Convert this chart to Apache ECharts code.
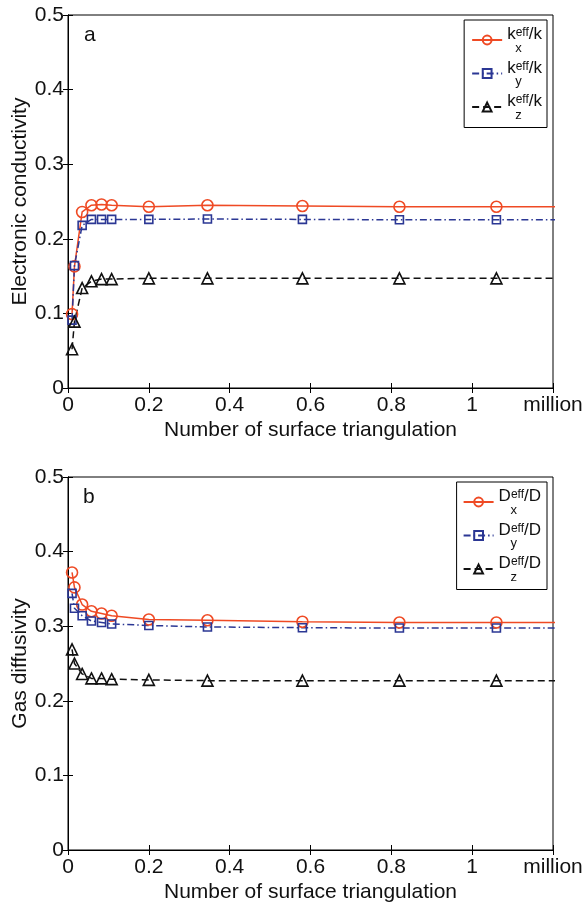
<!DOCTYPE html>
<html>
<head>
<meta charset="utf-8">
<script src="https://cdn.jsdelivr.net/npm/echarts@6/dist/echarts.min.js"></script>
<style>
  html, body { margin: 0; padding: 0; background: #fff; }
  #chart { width: 585px; height: 907px; }
</style>
</head>
<body>
<div id="chart"></div>
<script>
// number of surface triangles (million); last point lies past the axis end, line runs off the box
const xVals = [0.010, 0.016, 0.035, 0.058, 0.083, 0.108, 0.2, 0.345, 0.58, 0.82, 1.06, 1.3];
const xTicks = [0, 0.2, 0.4, 0.6, 0.8, 1, 1.2];
const yTicks = [0, 0.1, 0.2, 0.3, 0.4, 0.5];

// a: electronic conductivity
const kx = [0.099, 0.163, 0.236, 0.245, 0.246, 0.245, 0.243, 0.245, 0.244, 0.243, 0.243, 0.243];
const ky = [0.091, 0.164, 0.218, 0.226, 0.226, 0.226, 0.226, 0.2265, 0.226, 0.2255, 0.2255, 0.2255];
const kz = [0.052, 0.089, 0.134, 0.143, 0.146, 0.146, 0.147, 0.147, 0.147, 0.147, 0.147, 0.147];

// b: gas diffusivity
const Dx = [0.372, 0.352, 0.329, 0.320, 0.317, 0.314, 0.309, 0.308, 0.306, 0.305, 0.305, 0.305];
const Dy = [0.344, 0.324, 0.314, 0.307, 0.305, 0.303, 0.301, 0.299, 0.298, 0.2975, 0.2975, 0.2975];
const Dz = [0.269, 0.250, 0.236, 0.230, 0.230, 0.229, 0.228, 0.227, 0.227, 0.227, 0.227, 0.227];

const FONT = '"Liberation Sans", Arial, Helvetica, sans-serif';
const RED = '#ef4a24';
const BLUE = '#2b3794';
const BLACK = '#111';

const pairs = ys => ys.map((v, i) => [xVals[i], v]);

function xAxes(gridIndex, showName) {
  return [{
    type: 'value', gridIndex: gridIndex, min: xTicks[0], max: xTicks[xTicks.length - 1], interval: 0.2,
    name: showName, nameLocation: 'middle', nameGap: 32,
    nameTextStyle: {fontFamily: FONT, fontSize: 21, color: BLACK},
    axisLine: {lineStyle: {color: '#000', width: 1}},
    axisTick: {inside: true, length: 5, lineStyle: {color: '#000'}},
    axisLabel: {
      fontFamily: FONT, fontSize: 21, color: BLACK, margin: 7,
      formatter: v => v >= 1.19 ? 'million' : String(+v.toFixed(1))
    },
    splitLine: {show: false}
  }, {
    type: 'value', gridIndex: gridIndex, position: 'top', min: 0, max: 1.2, interval: 0.2,
    axisLine: {lineStyle: {color: '#000', width: 1}},
    axisTick: {inside: true, length: 5, lineStyle: {color: '#000'}},
    axisLabel: {show: false},
    splitLine: {show: false}
  }]
}

function yAxes(gridIndex, name) {
  return [{
    type: 'value', gridIndex: gridIndex, min: yTicks[0], max: yTicks[yTicks.length - 1], interval: 0.1,
    name: name, nameLocation: 'middle', nameGap: 37, nameMoveOverlap: false,
    nameTextStyle: {fontFamily: FONT, fontSize: 21, color: BLACK},
    axisLine: {show: true, lineStyle: {color: '#000', width: 1}},
    axisTick: {show: true, inside: true, length: 5, lineStyle: {color: '#000'}},
    axisLabel: {fontFamily: FONT, fontSize: 21, color: BLACK, margin: 4,
      formatter: v => String(+v.toFixed(1))},
    splitLine: {show: false}
  }, {
    type: 'value', gridIndex: gridIndex, position: 'right', min: 0, max: 0.5, interval: 0.1,
    axisLine: {show: true, lineStyle: {color: '#000', width: 1}},
    axisTick: {show: true, inside: true, length: 5, lineStyle: {color: '#000'}},
    axisLabel: {show: false},
    splitLine: {show: false}
  }]
}

function lineSeries(name, data, gridIdx, color, symbol, size, dash) {
  return {
    name: name, type: 'line', data: pairs(data),
    xAxisIndex: gridIdx * 2, yAxisIndex: gridIdx * 2,
    symbol: symbol, symbolSize: size, showSymbol: true, clip: true,
    lineStyle: {color: color, width: 1.5, type: dash},
    itemStyle: {color: 'rgba(255,255,255,0)', borderColor: color, borderWidth: 1.6},
    emphasis: {disabled: true},
    animation: false
  }
}

const legendNames = {
  kx: '{n|k}{sup|eff}{n|/k}\n{sub|x}',
  ky: '{n|k}{sup|eff}{n|/k}\n{sub|y}',
  kz: '{n|k}{sup|eff}{n|/k}\n{sub|z}',
  Dx: '{n|D}{sup|eff}{n|/D}\n{subD|x}',
  Dy: '{n|D}{sup|eff}{n|/D}\n{subD|y}',
  Dz: '{n|D}{sup|eff}{n|/D}\n{subD|z}'
};

const legendRich = {
  n: {fontFamily: FONT, fontSize: 17, color: BLACK, lineHeight: 16, verticalAlign: 'bottom'},
  sup: {fontFamily: FONT, fontSize: 12, color: BLACK, lineHeight: 16, verticalAlign: 'top'},
  sub: {fontFamily: FONT, fontSize: 13, color: BLACK, lineHeight: 10, verticalAlign: 'middle', padding: [0, 0, 0, 8]},
  subD: {fontFamily: FONT, fontSize: 13, color: BLACK, lineHeight: 10, verticalAlign: 'middle', padding: [0, 0, 0, 12]}
};

function legend(names, right, top, padding) {
  return {
    data: names, orient: 'vertical', right: right, top: top,
    itemWidth: 30, itemHeight: 11, itemGap: 5,
    padding: padding,
    backgroundColor: '#fff', borderColor: '#000', borderWidth: 1,
    formatter: n => legendNames[n],
    textStyle: {rich: legendRich},
    selectedMode: false
  }
}

let myChart = echarts.init(document.getElementById('chart'), null, {renderer: 'canvas'});
myChart.setOption({
  animation: false,
  backgroundColor: '#fff',
  title: [
    {text: 'a', left: 79, top: 20, textStyle: {fontFamily: FONT, fontSize: 21, fontWeight: 'normal', color: BLACK}},
    {text: 'b', left: 78, top: 482, textStyle: {fontFamily: FONT, fontSize: 21, fontWeight: 'normal', color: BLACK}}
  ],
  grid: [
    {left: 68, right: 32, top: 15, height: 373, show: true, borderColor: '#000', borderWidth: 1, outerBoundsMode: 'none'},
    {left: 68, right: 32, top: 477, height: 373, show: true, borderColor: '#000', borderWidth: 1, outerBoundsMode: 'none'}
  ],
  legend: [
    legend(['kx', 'ky', 'kz'], 38, 20, [6, 5, 6, 7]),
    legend(['Dx', 'Dy', 'Dz'], 38, 482, [6, 6, 6, 6])
  ],
  xAxis: [].concat(
    xAxes(0, 'Number of surface triangulation'),
    xAxes(1, 'Number of surface triangulation')
  ),
  yAxis: [].concat(
    yAxes(0, 'Electronic conductivity'),
    yAxes(1, 'Gas diffusivity')
  ),
  series: [
    lineSeries('kx', kx, 0, RED, 'circle', 11, 'solid'),
    lineSeries('ky', ky, 0, BLUE, 'rect', 8, [7, 3, 1.5, 3]),
    lineSeries('kz', kz, 0, BLACK, 'triangle', 11, [7, 4]),
    lineSeries('Dx', Dx, 1, RED, 'circle', 11, 'solid'),
    lineSeries('Dy', Dy, 1, BLUE, 'rect', 8, [7, 3, 1.5, 3]),
    lineSeries('Dz', Dz, 1, BLACK, 'triangle', 11, [7, 4])
  ]
});
</script>
</body>
</html>
